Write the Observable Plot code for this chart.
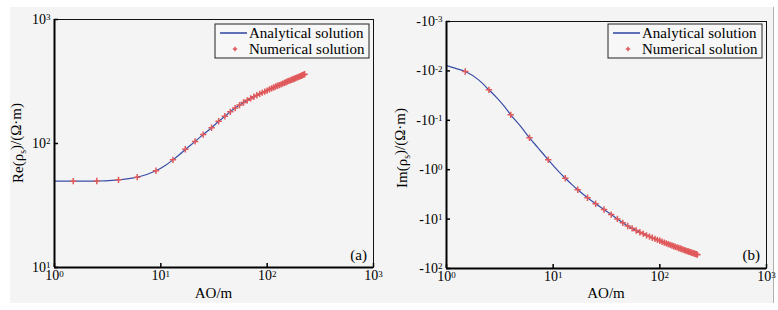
<!DOCTYPE html>
<html><head><meta charset="utf-8">
<script src="https://cdn.jsdelivr.net/npm/d3@7"></script>
<script src="https://cdn.jsdelivr.net/npm/@observablehq/plot@0.6"></script>
<style>
body{margin:0;background:#fff;}
#wrap{position:relative;width:778px;height:310px;overflow:hidden;font-family:"Liberation Serif","Times New Roman",serif;}
#bg{position:absolute;left:10px;top:7px;width:763px;height:296px;background:#f4f4f4;border-right:1px solid #b0b0b0;}
.panel{position:absolute;top:0;}
</style></head><body><div id="wrap"><div id="bg"></div></div>
<script>
// ---- data ----
const numX = [1.5, 2.5, 4, 6, 9, 13, 17, 21,
  25, 30, 35, 40, 45, 50, 55, 60, 65, 70, 75, 80, 85, 90, 95, 100,
  105, 110, 115, 120, 125, 130, 135, 140, 145, 150, 155, 160, 165, 170, 175, 180,
  185, 190, 195, 200, 205, 210, 215, 220, 225];
const reNum = [49.7, 49.8, 50.9, 53.5, 60.3, 73.8, 89.9, 104,
  118, 134, 151, 166, 180, 193, 204, 214, 223, 231, 238, 245, 251, 257, 262, 267,
  273, 278, 283, 288, 292, 296, 300, 304, 308, 312, 316, 320, 323, 327, 330, 333,
  337, 340, 343, 346, 349, 352, 356, 359, 362];
const imNum = [0.0103, 0.0242, 0.0775, 0.226, 0.63, 1.49, 2.55, 3.7,
  4.9, 6.4, 8.1, 9.9, 11.9, 13.8, 15.4, 17.0, 18.5, 19.9, 21.3, 22.6, 23.9, 25.1, 26.3, 27.5,
  28.7, 29.9, 31.0, 32.1, 33.2, 34.3, 35.4, 36.4, 37.4, 38.4, 39.4, 40.4, 41.4, 42.4, 43.4, 44.4,
  45.3, 46.2, 47.1, 48.0, 48.9, 49.8, 50.7, 51.6, 52.5];
const lineX = [1, 1.2, 1.5, 2, 2.5, 3, 3.5, 4, 5, 6, 7, 8, 9, 11, 13, 15, 17, 21, 25, 30, 35, 40,
  50, 60, 70, 80, 100, 125, 150, 175, 200, 225];
const reLine = [49.7, 49.7, 49.7, 49.7, 49.8, 50.0, 50.4, 50.9, 52.0, 53.5, 55.5, 57.8, 60.3, 66.5,
  73.8, 81.5, 89.5, 104, 118, 134, 151, 166, 193, 214, 231, 245, 267, 292, 312, 330, 346, 362];
const imLine = [0.0078, 0.0088, 0.0103, 0.0152, 0.0242, 0.036, 0.053, 0.0775, 0.136, 0.226, 0.335,
  0.47, 0.63, 1.03, 1.49, 2.0, 2.55, 3.7, 4.9, 6.4, 8.1, 9.9, 13.8, 17.0, 19.9, 22.6, 27.5, 33.2,
  38.4, 43.4, 48.0, 52.5];
const xDomain = [1, 1000];
const xTicks = [1, 10, 100, 1000];
const xTickLabels = ["10^0", "10^1", "10^2", "10^3"];
const reDomain = [10, 1000];
const reTicks = [10, 100, 1000];
const reTickLabels = ["10^1", "10^2", "10^3"];
const imDomain = [0.001, 100];
const imTicks = [0.001, 0.01, 0.1, 1, 10, 100];
const imTickLabels = ["-10^-3", "-10^-2", "-10^-1", "-10^0", "-10^1", "-10^2"];
const legendLabels = ["Analytical solution", "Numerical solution"];
const xTitle = "AO/m";
const lineColor = "#3a4ea6";
const dotColor = "#e0595b";

const NS = "http://www.w3.org/2000/svg";
function el(tag, attrs, parent) {
  const e = document.createElementNS(NS, tag);
  for (const k in attrs) e.setAttribute(k, attrs[k]);
  if (parent) parent.appendChild(e);
  return e;
}
function supers(svg) {
  svg.querySelectorAll("text").forEach(t => {
    const s = t.textContent;
    if (!s.includes("^")) return;
    const [base, exp] = s.split("^");
    t.textContent = "";
    t.style.fontSize = "14px";
    const a = el("tspan", {}, t); a.textContent = base;
    const b = el("tspan", {dy: "-0.42em"}, t); b.textContent = exp;
    b.style.fontSize = "9px";
  });
}

function panel({yNum, yLine, yDomain, yTicks, yTickLabels, reverse, margins, left, ylab, tag, legendX, labX, labY, bottomY}) {
  const num = numX.map((x, i) => ({x, y: yNum[i]}));
  const line = lineX.map((x, i) => ({x, y: yLine[i]}));
  const svg = Plot.plot({
    width: 389, height: 310, ...margins,
    style: {background: "transparent", fontFamily: "'Liberation Serif', 'Times New Roman', serif", fontSize: "15px", color: "#000", overflow: "visible"},
    x: {type: "log", domain: xDomain},
    y: {type: "log", domain: yDomain, reverse},
    marks: [
      Plot.line(line, {x: "x", y: "y", stroke: lineColor, strokeWidth: 1.2, curve: "monotone-x"}),
      Plot.dot(num, {x: "x", y: "y", symbol: "plus", r: 2.2, stroke: dotColor, strokeWidth: 1.5}),
      Plot.frame({stroke: "#111", strokeWidth: 1}),
      Plot.ruleX([xDomain[0]], {stroke: "#000", strokeWidth: 2}),
      Plot.ruleY([bottomY], {stroke: "#000", strokeWidth: 2}),
      Plot.axisX(xTicks, {tickSize: -4, tickPadding: 7, tickFormat: d => xTickLabels[xTicks.indexOf(d)], label: null, stroke: "#000", strokeWidth: 1.5}),
      Plot.axisY(yTicks, {tickSize: -4, tickPadding: 8, tickFormat: d => yTickLabels[yTicks.indexOf(d)], label: null, stroke: "#000", strokeWidth: 1.5})
    ]
  });
  supers(svg);
  const fx0 = margins.marginLeft, fx1 = 389 - margins.marginRight;
  // x title
  const xt = el("text", {x: (fx0 + fx1) / 2, y: 298, "text-anchor": "middle", "font-size": 15, fill: "#000"}, svg);
  xt.textContent = xTitle;
  // y title
  const yt = el("text", {transform: `translate(${labX},${labY}) rotate(-90)`, "text-anchor": "middle", "font-size": 15, fill: "#000"}, svg);
  const parts = [[ylab + "(", {}], ["ρ", {}], ["s", {dy: "0.3em", "font-size": "0.65em"}], [")/(Ω·m)", {dy: "-0.3em"}]];
  for (const [txt, at] of parts) { const ts = el("tspan", at, yt); ts.textContent = txt; }
  // legend
  const g = el("g", {"text-anchor": "start"}, svg);
  el("rect", {x: legendX, y: 24, width: 154, height: 34, fill: "#f7f7f7", stroke: "#222", "stroke-width": 1}, g);
  el("line", {x1: legendX + 5, x2: legendX + 32, y1: 33, y2: 33, stroke: lineColor, "stroke-width": 1.6}, g);
  el("path", {d: `M${legendX + 20 - 2.2},49H${legendX + 20 + 2.2}M${legendX + 20},${49 - 2.2}V${49 + 2.2}`, stroke: dotColor, "stroke-width": 1.5}, g);
  const t1 = el("text", {x: legendX + 34, y: 38, "font-size": 15, fill: "#000", "text-anchor": "start"}, g); t1.textContent = legendLabels[0];
  const t2 = el("text", {x: legendX + 34, y: 54, "font-size": 15, fill: "#000", "text-anchor": "start"}, g); t2.textContent = legendLabels[1];
  // tag
  const tg = el("text", {x: fx1 - 6, y: 260, "text-anchor": "end", "font-size": 15, fill: "#000"}, svg);
  tg.textContent = tag;
  svg.classList.add("panel");
  svg.style.left = left + "px";
  svg.style.position = "absolute";
  svg.style.top = "0px";
  document.getElementById("wrap").appendChild(svg);
}

panel({yNum: reNum, yLine: reLine, yDomain: reDomain, yTicks: reTicks, yTickLabels: reTickLabels, reverse: false,
  margins: {marginLeft: 54, marginRight: 16, marginTop: 19, marginBottom: 43}, left: 0, ylab: "Re", tag: "(a)",
  legendX: 215, labX: 23, labY: 143, bottomY: reDomain[0]});
panel({yNum: imNum, yLine: imLine, yDomain: imDomain, yTicks: imTicks, yTickLabels: imTickLabels, reverse: true,
  margins: {marginLeft: 57, marginRight: 12, marginTop: 21, marginBottom: 42}, left: 389, ylab: "Im", tag: "(b)",
  legendX: 219, labX: 18, labY: 148, bottomY: imDomain[1]});
</script></body></html>
